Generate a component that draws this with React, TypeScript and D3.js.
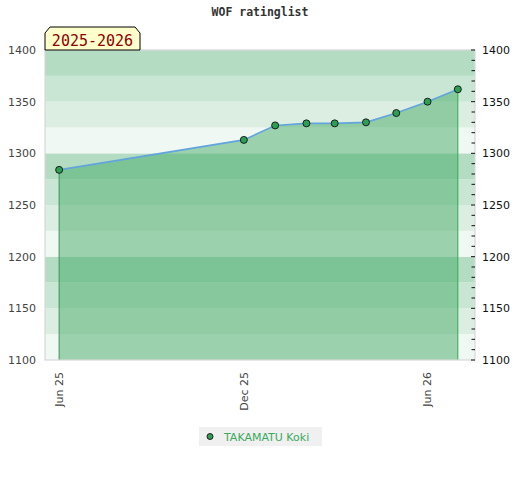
import React from "react";
import * as d3 from "d3";

// rating list dates and the player's rating at each
const listDates = [
  "2025-06-01",
  "2025-12-01",
  "2026-01-01",
  "2026-02-01",
  "2026-03-01",
  "2026-04-01",
  "2026-05-01",
  "2026-06-01",
  "2026-07-01",
];
const ratings = [1284, 1313, 1327, 1329, 1329, 1330, 1339, 1350, 1362];

const xTickDates = ["2025-06-01", "2025-12-01", "2026-06-01"];
const yTicks = [1100, 1150, 1200, 1250, 1300, 1350, 1400];
const bandShades = ["#b3dcc2", "#c8e6d3", "#dcede2", "#f0f8f3"];

const playerName = "TAKAMATU Koki";
const seasonLabel = "2025-2026";
const title = "WOF ratinglist";

const width = 520;
const height = 480;
const margin = { top: 50, right: 45, bottom: 120, left: 45 };

const parse = d3.timeParse("%Y-%m-%d");
const fmt = d3.timeFormat("%b %y");

export default function App() {
  const data = listDates.map((d, i) => ({ date: parse(d)!, value: ratings[i] }));

  const x = d3
    .scaleTime()
    .domain([parse("2025-05-18")!, parse("2026-07-18")!])
    .range([margin.left, width - margin.right]);

  const y = d3
    .scaleLinear()
    .domain([1100, 1400])
    .range([height - margin.bottom, margin.top]);

  const area = d3
    .area<{ date: Date; value: number }>()
    .x((d) => x(d.date))
    .y0(y(1100))
    .y1((d) => y(d.value));

  const line = d3
    .line<{ date: Date; value: number }>()
    .x((d) => x(d.date))
    .y((d) => y(d.value));

  const bands = d3.range(1100, 1400, 25);
  const minor = d3.range(1100, 1401, 10);
  const first = data[0];
  const last = data[data.length - 1];
  const x0 = margin.left;
  const x1 = width - margin.right;

  return (
    <svg
      width={width}
      height={height}
      style={{ position: "absolute", left: 0, top: 0, background: "#fff" }}
    >
      <text
        x={width / 2}
        y={16}
        textAnchor="middle"
        fontFamily="DejaVu Sans Mono"
        fontWeight="bold"
        fontSize={11.5}
        fill="#333"
      >
        {title}
      </text>

      {bands.map((b) => {
        // four shades per 100 points, darkest at the top of each block
        const idx = 3 - ((b - 1100) / 25) % 4;
        return (
          <rect
            key={b}
            x={x0}
            y={y(b + 25)}
            width={x1 - x0}
            height={y(b) - y(b + 25)}
            fill={bandShades[idx]}
          />
        );
      })}

      <path d={area(data)!} fill="rgb(69,172,104)" fillOpacity={0.5} />
      <line
        x1={x(first.date)}
        x2={x(first.date)}
        y1={y(first.value)}
        y2={y(1100)}
        stroke="#3a9456"
        strokeWidth={1}
      />
      <line
        x1={x(last.date)}
        x2={x(last.date)}
        y1={y(last.value)}
        y2={y(1100)}
        stroke="#2fae50"
        strokeWidth={1}
      />
      <path d={line(data)!} fill="none" stroke="#62a4dc" strokeWidth={1.6} />
      {data.map((d, i) => (
        <circle
          key={i}
          cx={x(d.date)}
          cy={y(d.value)}
          r={3.5}
          fill="#2f9e55"
          stroke="#111"
          strokeWidth={0.9}
        />
      ))}

      <rect
        x={x0}
        y={margin.top}
        width={x1 - x0}
        height={y(1100) - margin.top}
        fill="none"
        stroke="#d8d8d8"
        strokeWidth={1.2}
      />

      {minor.map((v) => (
        <line
          key={v}
          x1={x1 - (v % 50 === 0 ? 4 : 3.5)}
          x2={x1}
          y1={y(v)}
          y2={y(v)}
          stroke="#111"
          strokeWidth={1}
        />
      ))}

      {yTicks.map((v) => (
        <g key={v} fontFamily="DejaVu Sans" fontSize={11}>
          <text x={36} y={y(v)} dy="0.35em" textAnchor="end" fill="#444">
            {v}
          </text>
          <text x={482} y={y(v)} dy="0.35em" textAnchor="start" fill="#111">
            {v}
          </text>
        </g>
      ))}

      {xTickDates.map((s) => {
        const d = parse(s)!;
        return (
          <text
            key={s}
            transform={`translate(${x(d)},372) rotate(-90)`}
            dy="0.35em"
            textAnchor="end"
            fontFamily="DejaVu Sans"
            fontSize={11}
            fill="#444"
          >
            {fmt(d)}
          </text>
        );
      })}

      <polygon
        points={`${x0},${margin.top} ${x0},33 ${x0 + 5},27 135,27 140,33 140,${margin.top}`}
        fill="#ffffcc"
        stroke="#000"
        strokeWidth={1}
      />
      <text
        x={92.5}
        y={46}
        textAnchor="middle"
        fontFamily="DejaVu Sans Mono"
        fontSize={15}
        fill="#8b0000"
      >
        {seasonLabel}
      </text>

      <rect x={199} y={427} width={123} height={19} fill="#f0f0f0" />
      <circle cx={210} cy={436.5} r={3} fill="#2f9e55" stroke="#111" strokeWidth={0.9} />
      <text
        x={224}
        y={440.5}
        fontFamily="DejaVu Sans"
        fontSize={11}
        fill="#3aaa5e"
      >
        {playerName}
      </text>
    </svg>
  );
}
